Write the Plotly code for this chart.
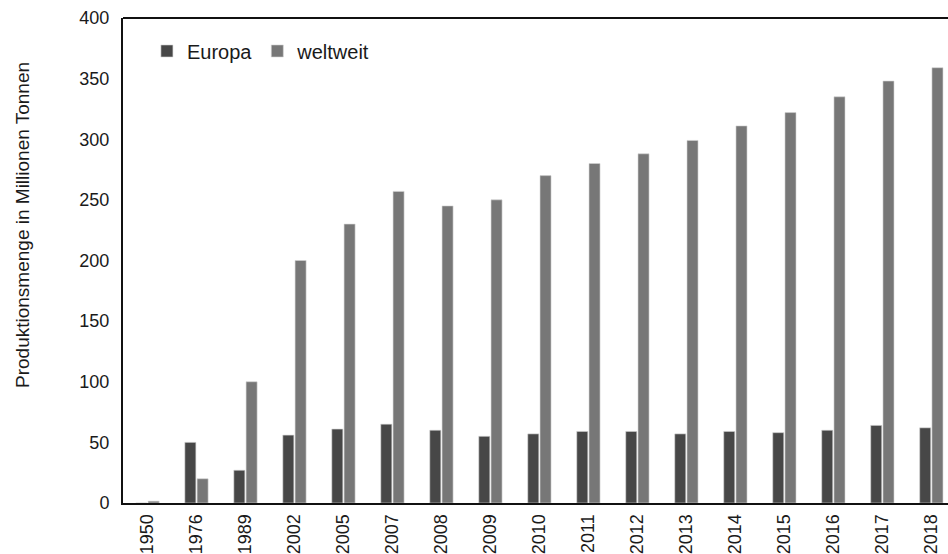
import plotly.graph_objects as go

# Produktionsmenge (Mio. t) je Jahr
jahre = ["1950", "1976", "1989", "2002", "2005", "2007", "2008", "2009", "2010",
         "2011", "2012", "2013", "2014", "2015", "2016", "2017", "2018"]
europa = [0, 50, 27, 56, 61, 65, 60, 55, 57, 59, 59, 57, 59, 58, 60, 64, 62]
weltweit = [1.5, 20, 100, 200, 230, 257, 245, 250, 270, 280, 288, 299, 311, 322, 335, 348, 359]

y_ticks = [0, 50, 100, 150, 200, 250, 300, 350, 400]

FONT = "Liberation Sans, Arial, sans-serif"
TEXT = "#1a1a1a"

fig = go.Figure()
fig.add_trace(go.Bar(
    x=jahre, y=europa, name="Europa",
    marker=dict(color="#474747", line=dict(color="#d4d4d4", width=0.6)),
))
fig.add_trace(go.Bar(
    x=jahre, y=weltweit, name="weltweit",
    marker=dict(color="#777777", line=dict(color="#d4d4d4", width=0.6)),
))

fig.update_layout(
    width=948, height=554,
    margin=dict(l=123, r=0, t=18, b=48),
    paper_bgcolor="white", plot_bgcolor="white",
    barmode="group", bargap=0.5, bargroupgap=0.1,
    font=dict(family=FONT, color=TEXT),
    showlegend=True,
    legend=dict(
        orientation="h", x=0.029, y=0.932, xanchor="left", yanchor="middle",
        font=dict(size=20, family=FONT, color=TEXT),
        bgcolor="rgba(0,0,0,0)", itemwidth=30, traceorder="normal",
    ),
)

fig.update_xaxes(
    type="category", range=[-0.5, 16.34],
    showline=True, linecolor="#111111", linewidth=2,
    showgrid=False, ticks="", tickangle=-90,
    tickfont=dict(size=18, family=FONT, color=TEXT),
    ticklabelstandoff=2,
)
fig.update_yaxes(
    range=[0, 400], tickvals=y_ticks,
    showline=True, linecolor="#111111", linewidth=2, mirror=False,
    showgrid=False, ticks="", zeroline=False,
    tickfont=dict(size=18, family=FONT, color=TEXT),
    ticklabelstandoff=8,
)

# Achsentitel der y-Achse
fig.add_annotation(
    text="Produktionsmenge in Millionen Tonnen", textangle=-90,
    xref="paper", yref="paper", x=-0.122, y=0.574,
    xanchor="center", yanchor="middle", showarrow=False,
    font=dict(size=19, family=FONT, color=TEXT),
)

# obere Rahmenlinie des Diagrammbereichs
fig.add_shape(type="line", xref="paper", yref="paper", x0=0, x1=1, y0=1, y1=1,
              line=dict(color="#111111", width=2))

fig.write_html("out.html")
